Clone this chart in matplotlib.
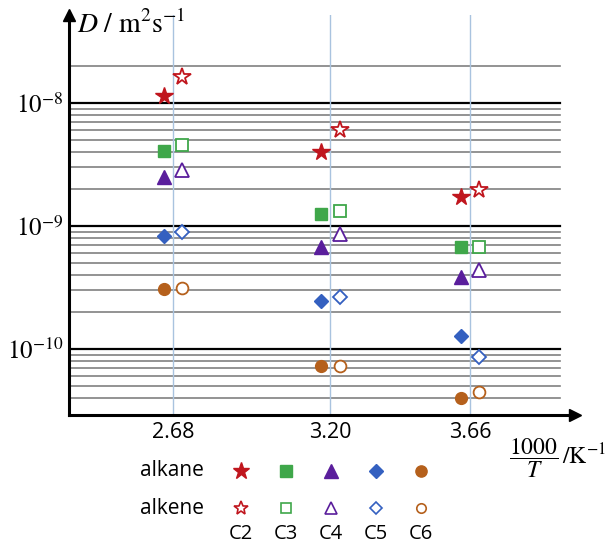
import numpy as np
import matplotlib.pyplot as plt

plt.rcParams['mathtext.fontset'] = 'stix'
plt.rcParams['font.family'] = ['Open Sans', 'DejaVu Sans']

# data: D / m^2 s^-1 at 1000/T = 2.68, 3.20, 3.66
invT = np.array([2.68, 3.20, 3.66])
species = ['C2', 'C3', 'C4', 'C5', 'C6']
alkane = {
    'C2': [1.14e-8, 4.0e-9, 1.73e-9],
    'C3': [4.1e-9, 1.25e-9, 6.7e-10],
    'C4': [2.52e-9, 6.7e-10, 3.83e-10],
    'C5': [8.3e-10, 2.46e-10, 1.28e-10],
    'C6': [3.05e-10, 7.3e-11, 4.0e-11],
}
alkene = {
    'C2': [1.63e-8, 6.0e-9, 1.96e-9],
    'C3': [4.56e-9, 1.32e-9, 6.7e-10],
    'C4': [2.85e-9, 8.6e-10, 4.38e-10],
    'C5': [8.9e-10, 2.63e-10, 8.6e-11],
    'C6': [3.1e-10, 7.3e-11, 4.47e-11],
}
xticklabels = ['2.68', '3.20', '3.66']

markers = {'C2': ('*', 13), 'C3': ('s', 8.5), 'C4': ('^', 10), 'C5': ('D', 7.5), 'C6': ('o', 8.5)}
colors = {'C2': '#c0161e', 'C3': '#3fa74a', 'C4': '#5a1e9c', 'C5': '#3460c0', 'C6': '#b5601c'}

fig = plt.figure(figsize=(6.12, 5.45), dpi=100)
W, H = 612, 545
x0, x1, y0, y1 = 69, 575, 15, 415
ax = fig.add_axes([x0/W, 1 - y1/H, (x1-x0)/W, (y1-y0)/H])
ax.set_yscale('log')
ax.set_xlim(2.337, 4.007)
ax.set_ylim(2.9e-11, 5.19e-8)

# horizontal grid
grid = []
for e in [-11, -10, -9, -8]:
    for m in range(1, 10):
        v = m * 10.0**e
        if 3.5e-11 < v < 2.5e-8:
            grid.append(v)
for v in grid:
    dec = np.isclose(np.log10(v), np.round(np.log10(v)))
    ax.plot([2.337, 3.957], [v, v], color='black' if dec else '#808080',
            lw=1.6 if dec else 1.2, zorder=1)
for xv in invT:
    ax.axvline(xv, color='#a9c3df', lw=1.0, zorder=1.5)

dx = 0.03
for s in species:
    mk, ms = markers[s]
    ax.plot(invT - dx, alkane[s], ls='none', marker=mk, ms=ms, color=colors[s], zorder=3)
    ax.plot(invT + dx, alkene[s], ls='none', marker=mk, ms=ms, mfc='white',
            mec=colors[s], mew=1.3, zorder=3)

for sp in ['top', 'right']:
    ax.spines[sp].set_visible(False)
for sp in ['left', 'bottom']:
    ax.spines[sp].set_linewidth(2.2)
ax.plot(0, 1, marker='^', ms=9, color='black', transform=ax.transAxes, clip_on=False)
ax.plot(1, 0, marker='>', ms=9, color='black', transform=ax.transAxes, clip_on=False)

ax.set_xticks(invT)
ax.set_xticklabels(xticklabels, fontsize=15.5)
ax.set_yticks([1e-10, 1e-9, 1e-8])
ax.set_yticklabels([r'$10^{-10}$', r'$10^{-9}$', r'$10^{-8}$'], fontsize=18)
ax.yaxis.set_minor_locator(plt.NullLocator())
ax.tick_params(length=0, pad=5)
ax.tick_params(axis='y', pad=4)

# overlay in pixel coords for labels and legend
ov = fig.add_axes([0, 0, 1, 1], zorder=5)
ov.set_xlim(0, W)
ov.set_ylim(H, 0)
ov.axis('off')
ov.text(77, 26, r'$D\ /\ \mathrm{m^2s^{-1}}$', fontsize=20, ha='left', va='center')
ov.text(606, 458, r'$\dfrac{1000}{T}\,/\mathrm{K^{-1}}$', fontsize=17, ha='right', va='center')

cols = 241 + 45 * np.arange(len(species))
ov.text(172, 471, 'alkane', fontsize=15, ha='center', va='center')
ov.text(172, 508, 'alkene', fontsize=15, ha='center', va='center')
for cx, s in zip(cols, species):
    mk, ms = markers[s]
    ov.plot(cx, 471, marker=mk, ms=ms*0.95, color=colors[s])
    ov.plot(cx, 508, marker=mk, ms=ms*0.8, mfc='white', mec=colors[s], mew=1.2)
    ov.text(cx, 534, s, fontsize=14.5, ha='center', va='center')

fig.savefig('out.png', dpi=100)
